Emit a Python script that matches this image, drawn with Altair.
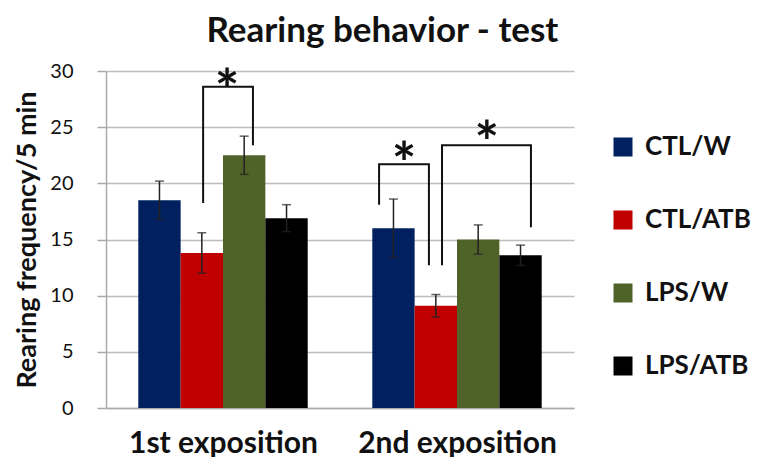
import altair as alt
import pandas as pd

# ---- data ----
groups = ["1st exposition", "2nd exposition"]
series = ["CTL/W", "CTL/ATB", "LPS/W", "LPS/ATB"]
colors = ["#002060", "#C00000", "#4F6228", "#000000"]

mean_1st = [18.5, 13.8, 22.5, 16.9]
mean_2nd = [16.0, 9.1, 15.0, 13.6]
sem_1st = [1.7, 1.8, 1.7, 1.2]
sem_2nd = [2.6, 1.0, 1.3, 0.9]

# significance brackets (x in category units 0..2, y in data units)
bracket_id = ["A", "A", "A", "A", "B", "B", "B", "B", "C", "C", "C", "C"]
bracket_x = [0.415, 0.415, 0.628, 0.628, 1.167, 1.167, 1.380, 1.380, 1.436, 1.436, 1.816, 1.816]
bracket_y = [18.25, 28.6, 28.6, 23.4, 18.1, 21.7, 21.7, 12.7, 12.7, 23.4, 23.4, 16.1]
star_x = [0.517, 1.274, 1.628]
star_y = [29.5, 23.0, 24.8]

# ---- build tables ----
BAR_W = 0.181
rows = []
for gi, (g, means, sems) in enumerate(zip(groups, [mean_1st, mean_2nd], [sem_1st, sem_2nd])):
    for si, s in enumerate(series):
        c = gi + 0.5 + (si - 1.5) * BAR_W
        rows.append(dict(group=g, series=s, mean=means[si], lo=means[si] - sems[si],
                         hi=means[si] + sems[si], c=c, x0=c - BAR_W / 2, x1=c + BAR_W / 2))
df = pd.DataFrame(rows)
br = pd.DataFrame(dict(bid=bracket_id, bx=bracket_x, by=bracket_y,
                       ord=[i % 4 for i in range(len(bracket_id))]))
st = pd.DataFrame(dict(sx=star_x, sy=star_y, t=["*"] * len(star_x)))

FONT = "Lato"
xscale = alt.Scale(domain=[0, 2], nice=False, zero=False)
yscale = alt.Scale(domain=[0, 30], nice=False)
label_expr = "['" + "','".join(groups) + "'][floor(datum.value)]"

bars = alt.Chart(df).mark_bar().encode(
    x=alt.X("x0:Q", scale=xscale, axis=alt.Axis(
        values=[0.5, 1.5], labelExpr=label_expr, ticks=False, tickSize=0, grid=False,
        domain=True, domainColor="#ABABAB", domainWidth=1.5, title=None,
        labelFont=FONT, labelFontSize=30, labelFontWeight="bold", labelColor="#111",
        labelPadding=20, labelLimit=400)),
    x2="x1:Q",
    y=alt.Y("mean:Q", scale=yscale, axis=alt.Axis(
        values=[0, 5, 10, 15, 20, 25, 30], title="Rearing frequency/5 min",
        titleFont=FONT, titleFontSize=27, titleFontWeight="bold", titleColor="#111",
        titlePadding=8, labelFont=FONT, labelFontSize=20, labelColor="#111",
        labelPadding=24, tickSize=9, tickColor="#ABABAB", tickWidth=1.5,
        domainColor="#ABABAB", domainWidth=1.5, grid=True, gridColor="#BDBDBD",
        gridWidth=1.5, titleLimit=500)),
    y2=alt.datum(0),
    color=alt.Color("series:N", scale=alt.Scale(domain=series, range=colors),
                    legend=alt.Legend(title=None, orient="none", legendX=504, legendY=63,
                                      symbolType="square", symbolSize=361,
                                      symbolStrokeWidth=0, symbolOpacity=1,
                                      labelFont=FONT, labelFontSize=26,
                                      labelFontWeight="bold", labelColor="#111",
                                      labelOffset=9, rowPadding=47, labelLimit=400)),
)

err = alt.Chart(df).mark_rule(color="#222", strokeWidth=1.5).encode(
    x="c:Q", y="lo:Q", y2="hi:Q")
cap_lo = alt.Chart(df).mark_tick(color="#222", orient="horizontal", size=9, thickness=1.5).encode(
    x="c:Q", y="lo:Q")
cap_hi = alt.Chart(df).mark_tick(color="#222", orient="horizontal", size=9, thickness=1.5).encode(
    x="c:Q", y="hi:Q")

brackets = alt.Chart(br).mark_line(color="#111", strokeWidth=2).encode(
    x="bx:Q", y="by:Q", detail="bid:N", order="ord:Q")
stars = alt.Chart(st).mark_text(font=FONT, fontSize=58, fontWeight="bold", color="#111",
                                baseline="middle", dy=17).encode(
    x="sx:Q", y="sy:Q", text="t:N")

chart = alt.layer(bars, err, cap_lo, cap_hi, brackets, stars).properties(
    width=468, height=337,
    autosize=alt.AutoSizeParams(type="none"),
    padding={"left": 98, "top": 63, "right": 179, "bottom": 49},
    title=alt.Title("Rearing behavior - test", font=FONT, fontSize=35, fontWeight="bold",
                    color="#111", anchor="middle", frame="bounds", offset=12),
).configure_view(stroke=None)

chart.save("out.html", embed_options={"renderer": "svg", "actions": False})
